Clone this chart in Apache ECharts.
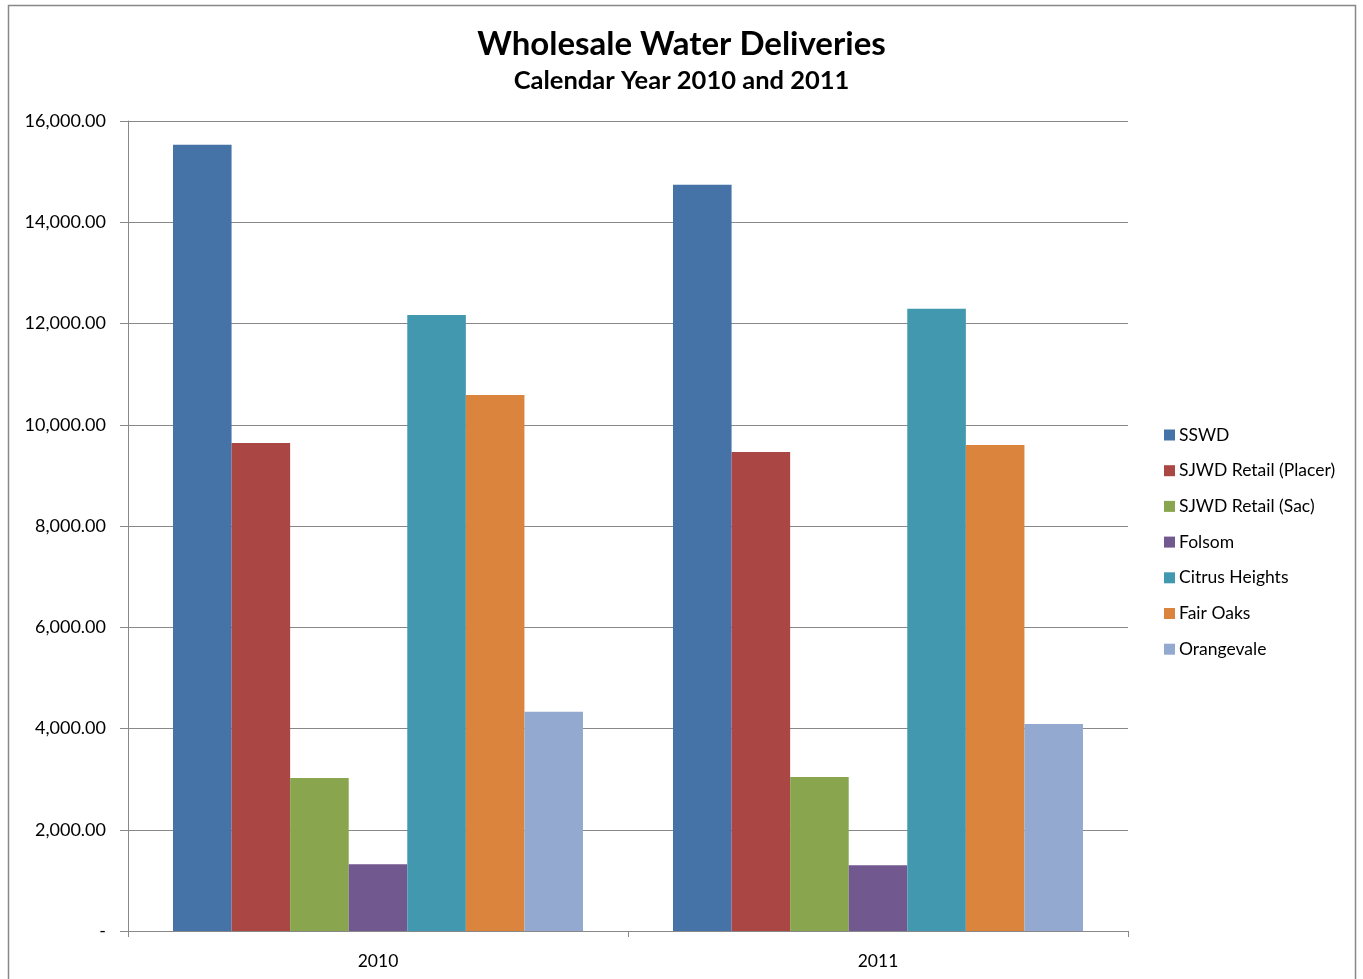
<!DOCTYPE html>
<html><head><meta charset="utf-8">
<script src="https://cdn.jsdelivr.net/npm/echarts@6/dist/echarts.min.js"></script>
<style>html,body{margin:0;padding:0;background:#fff}#c{width:1363px;height:979px}</style>
</head><body><div id="c"></div>
<script>
const categories = ['2010', '2011'];
const seriesNames = ['SSWD', 'SJWD Retail (Placer)', 'SJWD Retail (Sac)', 'Folsom', 'Citrus Heights', 'Fair Oaks', 'Orangevale'];
const sswd = [15530, 14740];
const sjwdPlacer = [9640, 9460];
const sjwdSac = [3020, 3040];
const folsom = [1320, 1300];
const citrusHeights = [12170, 12290];
const fairOaks = [10590, 9600];
const orangevale = [4330, 4090];
const colors = ['#4572A7', '#AA4643', '#89A54E', '#71588F', '#4198AF', '#DB843D', '#93A9CF'];
const titleText = 'Wholesale Water Deliveries';
const subtitleText = 'Calendar Year 2010 and 2011';

const values = [sswd, sjwdPlacer, sjwdSac, folsom, citrusHeights, fairOaks, orangevale];
const font = 'Lato, "Open Sans", sans-serif';
const chart = echarts.init(document.getElementById('c'), null, {renderer: 'canvas'});
chart.setOption({
  animation: false,
  backgroundColor: '#fff',
  title: {
    text: titleText, subtext: subtitleText, left: 'center', top: 23, itemGap: 7,
    textStyle: {fontFamily: font, fontSize: 33, fontWeight: 'bold', color: '#000'},
    subtextStyle: {fontFamily: font, fontSize: 25.5, fontWeight: 'bold', color: '#000'}
  },
  legend: {
    orient: 'vertical', left: 1159, top: 421, itemWidth: 11, itemHeight: 11, itemGap: 17.7,
    icon: 'rect',
    textStyle: {fontFamily: font, fontSize: 17.5, color: '#000', padding: [0, 0, 0, -1]},
    data: seriesNames
  },
  grid: {left: 128, top: 121, width: 1000, height: 810, containLabel: false},
  xAxis: {
    type: 'category', data: categories,
    axisLine: {lineStyle: {color: '#888', width: 1}},
    axisTick: {show: true, length: 6, lineStyle: {color: '#888'}},
    axisLabel: {fontFamily: font, fontSize: 17.5, color: '#000', margin: 21}
  },
  yAxis: {
    type: 'value', min: 0, max: 16000, interval: 2000,
    axisLine: {show: true, lineStyle: {color: '#888'}},
    axisTick: {show: true, length: 8, lineStyle: {color: '#888'}},
    splitLine: {lineStyle: {color: '#888', width: 1}},
    axisLabel: {
      fontFamily: font, fontSize: 18, color: '#000', margin: 22,
      formatter: v => v === 0 ? '-' : v.toLocaleString('en-US', {minimumFractionDigits: 2, maximumFractionDigits: 2})
    }
  },
  graphic: [{
    type: 'rect', silent: true, z: -1,
    shape: {x: 8.5, y: 5.5, width: 1347, height: 1000},
    style: {fill: 'none', stroke: '#888', lineWidth: 1.5}
  }],
  series: seriesNames.map((n, i) => ({
    name: n, type: 'bar', data: values[i], barGap: '0%', barCategoryGap: '18%',
    itemStyle: {color: colors[i]}
  }))
});
</script></body></html>
